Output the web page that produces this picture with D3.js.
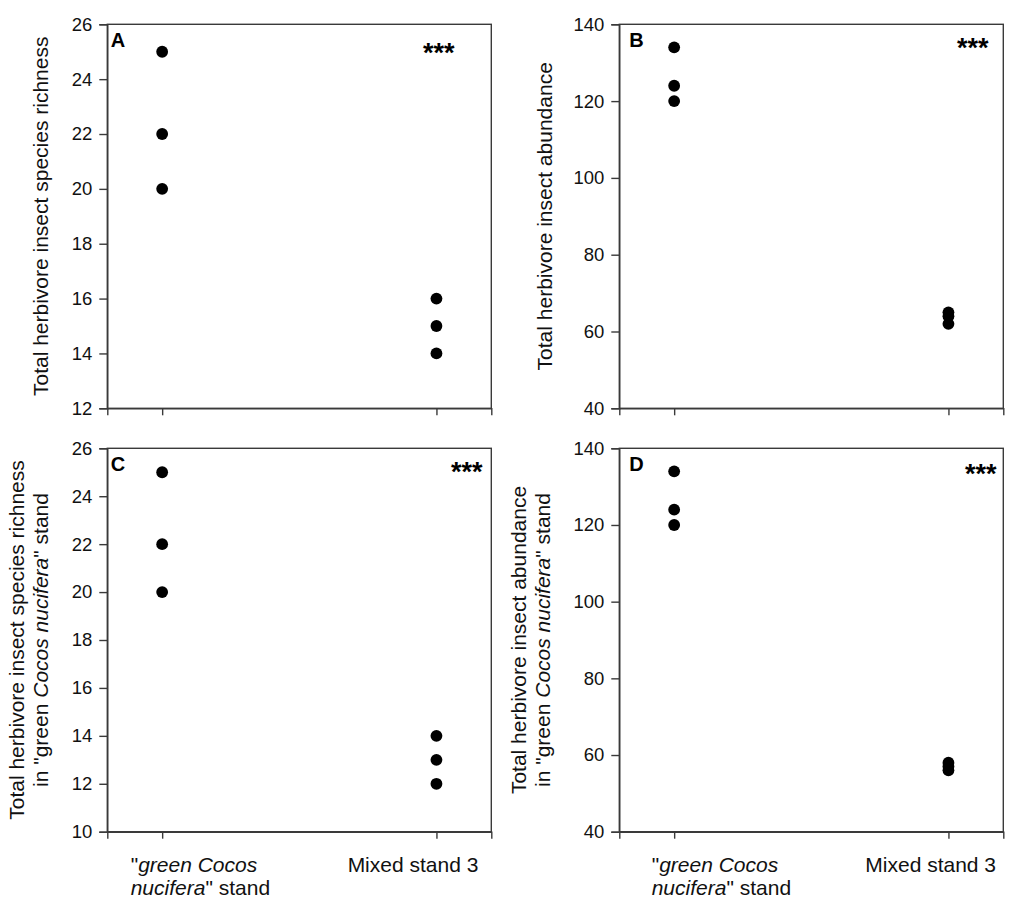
<!DOCTYPE html>
<html>
<head>
<meta charset="utf-8">
<script src="https://cdn.jsdelivr.net/npm/d3@7"></script>
<style>
  html, body { margin: 0; padding: 0; background: #fff; }
  svg { display: block; font-family: "Liberation Sans", Arial, sans-serif; }
</style>
</head>
<body>
<svg id="chart" width="1013" height="908"></svg>
<script>
// ---- data ----
const categories = ["green", "mixed"];
const panelLetters = ["A", "B", "C", "D"];
const panelA_green = [25, 22, 20];
const panelA_mixed = [16, 15, 14];
const panelB_green = [134, 124, 120];
const panelB_mixed = [65, 64, 62];
const panelC_green = [25, 22, 20];
const panelC_mixed = [14, 13, 12];
const panelD_green = [134, 124, 120];
const panelD_mixed = [58, 57, 56];
const richnessTicksA = [12, 14, 16, 18, 20, 22, 24, 26];
const richnessTicksC = [10, 12, 14, 16, 18, 20, 22, 24, 26];
const abundanceTicks = [40, 60, 80, 100, 120, 140];
const significance = ["***", "***", "***", "***"];

// ---- layout ----
const svg = d3.select("#chart");
const axisColor = "#3a3a3a";

const panels = [
  { letter: panelLetters[0], green: panelA_green, mixed: panelA_mixed, ticks: richnessTicksA,
    left: 107.3, top: 24.3, w: 384, h: 384,
    title: [[{t: "Total herbivore insect species richness"}]], titleX: [-59],
    starX: 423, starY: 62, xlabels: false },
  { letter: panelLetters[1], green: panelB_green, mixed: panelB_mixed, ticks: abundanceTicks,
    left: 619.3, top: 24.3, w: 384, h: 384,
    title: [[{t: "Total herbivore insect abundance"}]], titleX: [-67],
    starX: 957, starY: 57, xlabels: false },
  { letter: panelLetters[2], green: panelC_green, mixed: panelC_mixed, ticks: richnessTicksC,
    left: 107.3, top: 448.3, w: 384, h: 383.4,
    title: [[{t: "Total herbivore insect species richness"}],
            [{t: "in \"green "}, {t: "Cocos nucifera", i: true}, {t: "\" stand"}]],
    titleX: [-83.5, -59.5],
    starX: 451, starY: 480.5, xlabels: true, xl1: 130.7, xl2: 413 },
  { letter: panelLetters[3], green: panelD_green, mixed: panelD_mixed, ticks: abundanceTicks,
    left: 619.3, top: 448.3, w: 384, h: 383.4,
    title: [[{t: "Total herbivore insect abundance"}],
            [{t: "in \"green "}, {t: "Cocos nucifera", i: true}, {t: "\" stand"}]],
    titleX: [-93.5, -69.5],
    starX: 965, starY: 482.5, xlabels: true, xl1: 651.7, xl2: 930.7 }
];

panels.forEach((p, pi) => {
  const g = svg.append("g").attr("transform", `translate(${p.left},${p.top})`);
  const x = d3.scalePoint().domain(categories).range([0, p.w]).padding(0.2);
  const y = d3.scaleLinear().domain([p.ticks[0], p.ticks[p.ticks.length - 1]]).range([p.h, 0]);

  // frame
  g.append("rect").attr("x", 0).attr("y", 0).attr("width", p.w).attr("height", p.h)
    .attr("fill", "none").attr("stroke", axisColor).attr("stroke-width", 1.4);

  // y axis
  const ya = g.append("g").call(d3.axisLeft(y).tickValues(p.ticks).tickSize(8).tickPadding(7).tickFormat(d3.format("d")));
  ya.select(".domain").attr("stroke", axisColor).attr("stroke-width", 1.4);
  ya.selectAll(".tick line").attr("stroke", axisColor).attr("stroke-width", 1.4);
  ya.selectAll(".tick text").attr("fill", "#111").style("font-size", "18.5px")
    .style("font-family", "'Liberation Sans', Arial, sans-serif");

  // x axis
  const xa = g.append("g").attr("transform", `translate(0,${p.h})`)
    .call(d3.axisBottom(x).tickSize(7).tickFormat(""));
  xa.select(".domain").attr("stroke", axisColor).attr("stroke-width", 1.4);
  xa.selectAll(".tick line").attr("stroke", axisColor).attr("stroke-width", 1.4);

  // points
  const pts = [];
  p.green.forEach(v => pts.push({ c: categories[0], v }));
  p.mixed.forEach(v => pts.push({ c: categories[1], v }));
  g.selectAll("circle.pt").data(pts).enter().append("circle")
    .attr("class", "pt")
    .attr("cx", d => x(d.c)).attr("cy", d => y(d.v)).attr("r", 5.9).attr("fill", "#000");

  // panel letter
  g.append("text").attr("x", pi % 2 === 0 ? 3.5 : 10).attr("y", 23.2)
    .style("font-size", "20px").style("font-weight", "bold").attr("fill", "#000").text(p.letter);

  // significance
  svg.append("text").attr("x", p.starX).attr("y", p.starY)
    .style("font-size", "27px").style("font-weight", "bold").attr("fill", "#000").text(significance[pi]);

  // y title
  p.title.forEach((line, li) => {
    const t = g.append("text")
      .attr("transform", `translate(${p.titleX[li]},${p.h / 2}) rotate(-90)`)
      .attr("text-anchor", "middle").style("font-size", "21px").attr("fill", "#111");
    line.forEach(seg => {
      const s = t.append("tspan").text(seg.t);
      if (seg.i) s.style("font-style", "italic");
    });
  });

  // x labels
  if (p.xlabels) {
    const l1 = svg.append("text").attr("x", p.xl1).attr("y", 872.3).style("font-size", "21px").attr("fill", "#111");
    l1.append("tspan").text("\"");
    l1.append("tspan").style("font-style", "italic").text("green Cocos");
    const l2 = svg.append("text").attr("x", p.xl1).attr("y", 895).style("font-size", "21px").attr("fill", "#111");
    l2.append("tspan").style("font-style", "italic").text("nucifera");
    l2.append("tspan").text("\" stand");
    svg.append("text").attr("x", p.xl2).attr("y", 872.3).attr("text-anchor", "middle")
      .style("font-size", "21px").attr("fill", "#111").text("Mixed stand 3");
  }
});
</script>
</body>
</html>
